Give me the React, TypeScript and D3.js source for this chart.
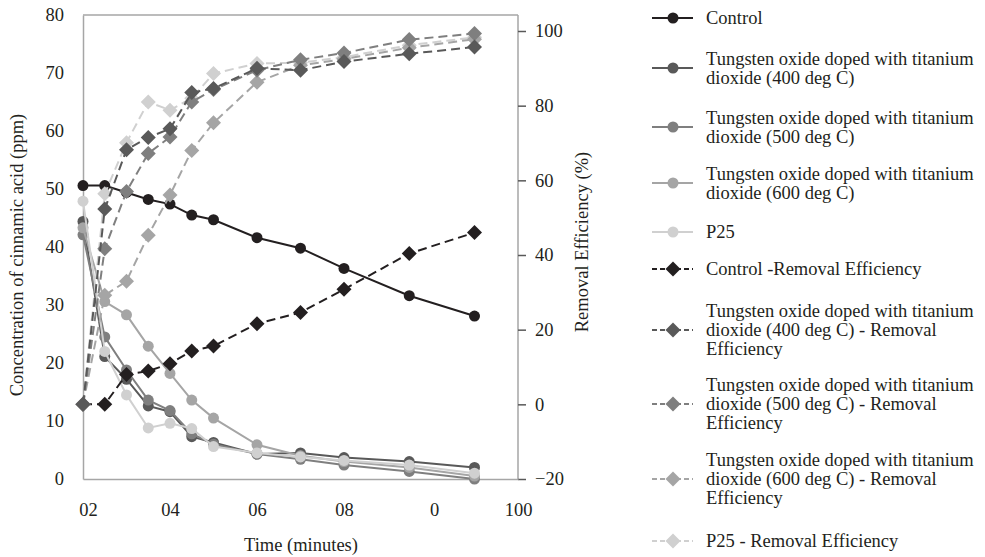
import React, { useEffect, useRef } from "react";
import * as d3 from "d3";

const times = [0, 5, 10, 15, 20, 25, 30, 40, 50, 60, 75, 90];

const controlConc = [50.6, 50.6, 49.4, 48.2, 47.4, 45.5, 44.7, 41.6, 39.8, 36.3, 31.6, 28.1];
const w400Conc = [44.4, 21.1, 17.2, 12.6, 11.6, 7.3, 6.3, 4.3, 4.5, 3.7, 3.0, 2.0];
const w500Conc = [42.1, 24.5, 18.8, 13.6, 11.8, 7.8, 6.0, 4.3, 3.4, 2.4, 1.3, 0.0];
const w600Conc = [43.3, 30.6, 28.3, 22.9, 18.2, 13.6, 10.5, 5.9, 4.0, 3.0, 2.0, 0.5];
const p25Conc = [47.9, 22.0, 14.5, 8.8, 9.6, 8.7, 5.6, 4.5, 3.8, 3.2, 2.4, 1.0];

const controlRE = [0, 0, 8.0, 8.9, 10.9, 14.3, 15.6, 21.6, 24.6, 30.8, 40.4, 46.0];
const w400RE = [0, 52.3, 68.2, 71.5, 73.8, 83.5, 84.6, 90.0, 89.5, 91.8, 93.9, 95.7];
const w500RE = [0, 41.7, 57.0, 67.2, 71.6, 81.0, 84.3, 89.5, 92.3, 94.1, 97.7, 99.3];
const w600RE = [0, 29.2, 33.0, 45.3, 56.1, 68.0, 75.4, 86.3, 90.8, 92.5, 95.5, 97.8];
const p25RE = [0, 56.4, 70.1, 81.0, 78.8, 82.0, 88.6, 91.3, 91.5, 93.0, 96.2, 98.3];

const xTickValues = [0, 20, 40, 60, 80, 100];
const xTickLabels = ["02", "04", "06", "08", "0", "100"];
const leftTicks = [0, 10, 20, 30, 40, 50, 60, 70, 80];
const rightTicks = [-20, 0, 20, 40, 60, 80, 100];

const C_BLACK = "#231f20";
const C_400 = "#595959";
const C_500 = "#7f7f7f";
const C_600 = "#a5a5a5";
const C_P25 = "#d0d0d0";

type Series = {
  name: string[];
  values: number[];
  color: string;
};

const concSeries: Series[] = [
  { name: ["Control"], values: controlConc, color: C_BLACK },
  { name: ["Tungsten oxide doped with titanium", "dioxide (400 deg C)"], values: w400Conc, color: C_400 },
  { name: ["Tungsten oxide doped with titanium", "dioxide (500 deg C)"], values: w500Conc, color: C_500 },
  { name: ["Tungsten oxide doped with titanium", "dioxide (600 deg C)"], values: w600Conc, color: C_600 },
  { name: ["P25"], values: p25Conc, color: C_P25 },
];
const reSeries: Series[] = [
  { name: ["Control -Removal Efficiency"], values: controlRE, color: C_BLACK },
  { name: ["Tungsten oxide doped with titanium", "dioxide (400 deg C) - Removal", "Efficiency"], values: w400RE, color: C_400 },
  { name: ["Tungsten oxide doped with titanium", "dioxide (500 deg C) - Removal", "Efficiency"], values: w500RE, color: C_500 },
  { name: ["Tungsten oxide doped with titanium", "dioxide (600 deg C) - Removal", "Efficiency"], values: w600RE, color: C_600 },
  { name: ["P25 - Removal Efficiency"], values: p25RE, color: C_P25 },
];

const W = 985;
const H = 557;
const FONT = "'Liberation Serif', 'Times New Roman', serif";
const FS = 18.5;
const TXT = "#231f20";

export default function App() {
  const ref = useRef<SVGSVGElement | null>(null);

  useEffect(() => {
    const svg = d3.select(ref.current);
    svg.selectAll("*").remove();

    const x = d3.scaleLinear().domain([0, 100]).range([83, 518]);
    const yL = d3.scaleLinear().domain([0, 80]).range([479, 15]);
    const yR = d3.scaleLinear().domain([-20, 100]).range([479, 31]);
    const plotTop = 15;
    const axisColor = "#a6a6a6";

    svg.append("line").attr("x1", x(0)).attr("x2", x(100)).attr("y1", plotTop).attr("y2", plotTop)
      .attr("stroke", axisColor).attr("stroke-width", 1.5);

    // left axis
    const gl = svg.append("g").attr("transform", `translate(${x(0)},0)`)
      .call(d3.axisLeft(yL).tickValues(leftTicks).tickSize(0).tickPadding(19).tickFormat(d3.format("d")));
    gl.select(".domain").attr("stroke", axisColor).attr("stroke-width", 1.5);
    gl.selectAll("text").attr("font-family", FONT).attr("font-size", FS).attr("fill", TXT);

    // right axis
    const gr = svg.append("g").attr("transform", `translate(${x(100)},0)`)
      .call(d3.axisRight(yR).tickValues(rightTicks).tickSize(8).tickPadding(9).tickFormat(d3.format("d")));
    gr.select(".domain").attr("d", `M0,${plotTop}V${yR(-20)}`).attr("stroke", axisColor).attr("stroke-width", 1.5);
    gr.selectAll(".tick line").attr("stroke", "#595959").attr("stroke-width", 1.5);
    gr.selectAll("text").attr("font-family", FONT).attr("font-size", FS).attr("fill", TXT);

    // bottom axis
    const gb = svg.append("g").attr("transform", `translate(0,${yL(0)})`)
      .call(d3.axisBottom(x).tickValues(xTickValues).tickSize(0).tickPadding(24)
        .tickFormat((_d, i) => xTickLabels[i]));
    gb.select(".domain").attr("stroke", axisColor).attr("stroke-width", 1.5);
    gb.selectAll("text").attr("font-family", FONT).attr("font-size", FS).attr("fill", TXT);
    gb.selectAll(".tick text").attr("dx", (_d, i) => (i === 0 ? 5 : i === 4 ? 3 : 0));

    // axis titles
    svg.append("text").attr("transform", `translate(23,255) rotate(-90)`)
      .attr("text-anchor", "middle").attr("font-family", FONT).attr("font-size", FS).attr("fill", TXT)
      .text("Concentration of cinnamic acid (ppm)");
    svg.append("text").attr("transform", `translate(588,242) rotate(-90)`)
      .attr("text-anchor", "middle").attr("font-family", FONT).attr("font-size", FS).attr("fill", TXT)
      .text("Removal Efficiency (%)");
    svg.append("text").attr("x", 301).attr("y", 551)
      .attr("text-anchor", "middle").attr("font-family", FONT).attr("font-size", FS).attr("fill", TXT)
      .text("Time (minutes)");

    const plot = svg.append("g");
    const diamondPath = (s: number) => `M0,${-s}L${s},0L0,${s}L${-s},0Z`;

    // concentration series
    concSeries.forEach((s) => {
      const line = d3.line<number>().x((_d, i) => x(times[i])).y((d) => yL(d));
      plot.append("path").attr("d", line(s.values) as string).attr("fill", "none")
        .attr("stroke", s.color).attr("stroke-width", 2);
      plot.selectAll(null).data(s.values).enter().append("circle")
        .attr("cx", (_d, i) => x(times[i])).attr("cy", (d) => yL(d)).attr("r", 5.5).attr("fill", s.color);
    });

    // removal efficiency series (darkest drawn last)
    const reOrder = [0, 4, 3, 2, 1];
    reOrder.forEach((k) => {
      const s = reSeries[k];
      const line = d3.line<number>().x((_d, i) => x(times[i])).y((d) => yR(d));
      plot.append("path").attr("d", line(s.values) as string).attr("fill", "none")
        .attr("stroke", s.color).attr("stroke-width", 2).attr("stroke-dasharray", "9,5");
      plot.selectAll(null).data(s.values).enter().append("path")
        .attr("transform", (d, i) => `translate(${x(times[i])},${yR(d)})`)
        .attr("d", diamondPath(7.5)).attr("fill", s.color);
    });

    // legend
    const legend = svg.append("g");
    const items = [...concSeries.map((s) => ({ ...s, re: false })), ...reSeries.map((s) => ({ ...s, re: true }))];
    const markerY = [18, 68, 127, 183, 232, 269, 330, 404, 479, 541];
    const lh = 19;
    items.forEach((it, idx) => {
      const cy = markerY[idx];
      const g = legend.append("g");
      g.append("line").attr("x1", 652).attr("x2", 693).attr("y1", cy).attr("y2", cy)
        .attr("stroke", it.color).attr("stroke-width", 2)
        .attr("stroke-dasharray", it.re ? "5,3" : null);
      if (it.re) {
        g.append("path").attr("transform", `translate(673,${cy})`).attr("d", diamondPath(7.5)).attr("fill", it.color);
      } else {
        g.append("circle").attr("cx", 673).attr("cy", cy).attr("r", 5.5).attr("fill", it.color);
      }
      const n = it.name.length;
      it.name.forEach((t, j) => {
        g.append("text").attr("x", 706).attr("y", cy + (j - (n - 1) / 2) * lh)
          .attr("dy", "0.35em").attr("font-family", FONT).attr("font-size", FS).attr("fill", TXT)
          .text(t);
      });
    });
  }, []);

  return (
    <div style={{ position: "absolute", left: 0, top: 0, width: W, height: H, background: "#fff" }}>
      <svg ref={ref} width={W} height={H} style={{ display: "block" }} />
    </div>
  );
}
